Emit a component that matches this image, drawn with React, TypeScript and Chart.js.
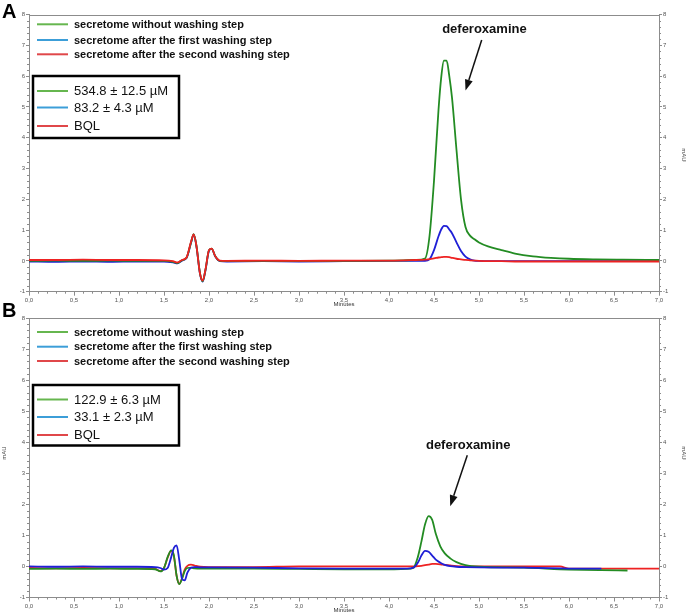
import React, { useEffect, useRef } from "react";
import { Chart, registerables } from "chart.js";

Chart.register(...registerables);

// ---------- data ----------
const seriesNames = [
  "secretome without washing step",
  "secretome after the first washing step",
  "secretome after the second washing step",
];
const concA = ["534.8 ± 12.5 µM", "83.2 ± 4.3 µM", "BQL"];
const concB = ["122.9 ± 6.3 µM", "33.1 ± 2.3 µM", "BQL"];
const peakLabel = "deferoxamine";
const axisTitleX = "Minutes";
const axisTitleY = "mAU";

// Panel A (minutes)
const timeA = [0, 0.3, 0.6, 0.9, 1.2, 1.5, 1.6, 1.65, 1.7, 1.75, 1.8, 1.83, 1.86, 1.9, 1.93, 1.96, 2.0, 2.03, 2.07, 2.12, 2.2, 2.6, 3.0, 3.5, 4.0, 4.3, 4.4, 4.45, 4.5, 4.55, 4.58, 4.61, 4.64, 4.67, 4.7, 4.75, 4.8, 4.85, 4.9, 4.95, 5.0, 5.1, 5.25, 5.4, 5.6, 5.8, 6.0, 6.3, 6.6, 7.0];
const greenA = [0.0, 0.01, 0.0, 0.01, 0.0, 0.0, -0.03, -0.07, 0.02, 0.1, 0.6, 0.87, 0.5, -0.4, -0.66, -0.3, 0.35, 0.4, 0.15, 0.0, -0.01, 0.0, -0.01, 0.0, 0.01, 0.03, 0.08, 0.8, 2.6, 4.9, 5.95, 6.5, 6.5, 6.0, 5.3, 3.6, 2.0, 1.1, 0.82, 0.7, 0.6, 0.47, 0.35, 0.24, 0.15, 0.1, 0.07, 0.05, 0.04, 0.03];
const blueA = [-0.02, -0.03, -0.02, -0.03, -0.02, -0.02, -0.05, -0.08, 0.01, 0.09, 0.58, 0.85, 0.48, -0.42, -0.67, -0.32, 0.33, 0.39, 0.14, -0.01, -0.02, -0.01, -0.02, -0.01, 0.0, 0.0, 0.0, 0.05, 0.35, 0.8, 1.02, 1.14, 1.13, 1.02, 0.9, 0.6, 0.32, 0.14, 0.05, 0.01, 0.0, -0.01, -0.01, -0.01, -0.01, -0.01, -0.01, -0.01, -0.01, -0.01];
const redA = [0.03, 0.03, 0.04, 0.03, 0.03, 0.02, -0.01, -0.05, 0.03, 0.11, 0.62, 0.86, 0.49, -0.41, -0.64, -0.29, 0.35, 0.4, 0.15, 0.01, 0.0, 0.01, 0.0, 0.01, 0.01, 0.03, 0.04, 0.06, 0.08, 0.11, 0.12, 0.13, 0.13, 0.12, 0.1, 0.07, 0.05, 0.03, 0.02, 0.01, 0.0, -0.01, -0.01, -0.02, -0.02, -0.02, -0.02, -0.02, -0.02, -0.02];

// Panel B (minutes)
const timeB = [0, 0.3, 0.6, 0.9, 1.2, 1.4, 1.46, 1.5, 1.54, 1.58, 1.61, 1.64, 1.67, 1.7, 1.73, 1.76, 1.8, 1.84, 1.9, 2.0, 2.5, 3.0, 3.5, 4.0, 4.2, 4.27, 4.32, 4.36, 4.4, 4.44, 4.48, 4.52, 4.57, 4.62, 4.68, 4.75, 4.85, 5.0, 5.5, 5.9, 6.0, 6.36, 6.65, 7.0];
const greenB = [-0.08, -0.07, -0.08, -0.07, -0.08, -0.09, -0.16, -0.05, 0.3, 0.52, 0.35, -0.3, -0.57, -0.4, -0.15, -0.05, -0.04, -0.06, -0.07, -0.07, -0.07, -0.08, -0.09, -0.09, -0.08, -0.05, 0.3, 0.8, 1.35, 1.62, 1.5, 1.05, 0.65, 0.42, 0.26, 0.14, 0.04, -0.01, -0.04, -0.09, -0.1, -0.12, -0.13, null];
const blueB = [0.0, -0.01, 0.0, -0.01, -0.01, -0.02, -0.05, -0.1, -0.05, 0.3, 0.6, 0.68, 0.2, -0.4, -0.45, -0.2, -0.04, -0.02, -0.03, -0.03, -0.04, -0.06, -0.07, -0.07, -0.07, -0.04, 0.12, 0.35, 0.5, 0.47, 0.35, 0.22, 0.12, 0.05, 0.01, -0.01, -0.02, -0.03, -0.04, -0.06, -0.07, -0.07, null, null];
const redB = [-0.05, -0.06, -0.05, -0.06, -0.06, -0.08, -0.15, -0.05, 0.28, 0.5, 0.33, -0.3, -0.56, -0.38, -0.1, 0.02, 0.06, 0.03, -0.01, -0.02, -0.02, 0.0, 0.0, 0.0, 0.0, 0.0, 0.01, 0.02, 0.04, 0.06, 0.08, 0.08, 0.07, 0.05, 0.03, 0.01, 0.0, 0.0, 0.0, 0.0, -0.07, -0.07, -0.07, -0.07];

// ---------- styles ----------
const FONT = "'Liberation Sans', Arial, sans-serif";
const LINE_COLORS = ["#238c23", "#1f1fd6", "#ee2222"];
const LEGEND_COLORS = ["#66b64f", "#3c9ed8", "#e0474a"];
const AXIS_COLOR = "#8c8c8c";
const TICK_TEXT = "#555555";

type PanelCfg = {
  letter: string;
  time: number[];
  green: (number | null)[];
  blue: (number | null)[];
  red: (number | null)[];
  conc: string[];
  top: number;
  height: number;
  chartTop: number;
  chartBottom: number;
  legendRows: number[];
  boxTop: number;
  boxBottom: number;
  boxRows: number[];
  letterBaseline: number;
  textAt: [number, number];
  arrowFrom: [number, number];
  arrowTo: [number, number];
  mauLeft: number | null;
  mauRight: number | null;
  order: string[];
};

const toPts = (t: number[], v: (number | null)[]) => t.map((x, i) => ({ x, y: v[i] }));

function overlayPlugin(cfg: PanelCfg) {
  return {
    id: "overlay" + cfg.letter,
    afterDraw(chart: any) {
      const ctx = chart.ctx as CanvasRenderingContext2D;
      const { left, right, top, bottom } = chart.chartArea;
      const xs = chart.scales.x;
      const ys = chart.scales.y;
      ctx.save();
      // top border
      ctx.strokeStyle = AXIS_COLOR;
      ctx.lineWidth = 1;
      ctx.beginPath();
      ctx.moveTo(left, Math.round(top) + 0.5);
      ctx.lineTo(right, Math.round(top) + 0.5);
      ctx.stroke();
      // minor ticks
      ctx.beginPath();
      for (let i = 0; i <= 70; i++) {
        if (i % 5 === 0) continue;
        const px = Math.round(xs.getPixelForValue(i / 10)) + 0.5;
        ctx.moveTo(px, bottom);
        ctx.lineTo(px, bottom + 2);
      }
      for (let j = -10; j <= 80; j += 2) {
        if (j % 10 === 0) continue;
        const py = Math.round(ys.getPixelForValue(j / 10)) + 0.5;
        ctx.moveTo(left - 2, py);
        ctx.lineTo(left, py);
        ctx.moveTo(right, py);
        ctx.lineTo(right + 2, py);
      }
      ctx.stroke();

      // panel letter
      ctx.fillStyle = "#000";
      ctx.font = `bold 20px ${FONT}`;
      ctx.textAlign = "left";
      ctx.textBaseline = "alphabetic";
      ctx.fillText(cfg.letter, 2, cfg.letterBaseline);

      // series legend
      ctx.textBaseline = "middle";
      ctx.font = `bold 11px ${FONT}`;
      seriesNames.forEach((name, i) => {
        const y = cfg.legendRows[i];
        ctx.strokeStyle = LEGEND_COLORS[i];
        ctx.lineWidth = 2;
        ctx.beginPath();
        ctx.moveTo(37, y);
        ctx.lineTo(68, y);
        ctx.stroke();
        ctx.fillStyle = "#111";
        ctx.fillText(name, 74, y + 0.5);
      });

      // concentration box
      ctx.fillStyle = "#fff";
      ctx.fillRect(33, cfg.boxTop, 146, cfg.boxBottom - cfg.boxTop);
      ctx.strokeStyle = "#000";
      ctx.lineWidth = 2.5;
      ctx.strokeRect(33, cfg.boxTop, 146, cfg.boxBottom - cfg.boxTop);
      ctx.font = `13px ${FONT}`;
      cfg.conc.forEach((txt, i) => {
        const y = cfg.boxRows[i];
        ctx.strokeStyle = LEGEND_COLORS[i];
        ctx.lineWidth = 2;
        ctx.beginPath();
        ctx.moveTo(37, y);
        ctx.lineTo(68, y);
        ctx.stroke();
        ctx.fillStyle = "#111";
        ctx.fillText(txt, 74, y + 0.5);
      });

      // peak annotation
      const tx = xs.getPixelForValue(cfg.textAt[0]);
      const ty = ys.getPixelForValue(cfg.textAt[1]);
      ctx.font = `bold 13px ${FONT}`;
      ctx.textAlign = "center";
      ctx.fillStyle = "#111";
      ctx.fillText(peakLabel, tx, ty);
      const ax0 = xs.getPixelForValue(cfg.arrowFrom[0]);
      const ay0 = ys.getPixelForValue(cfg.arrowFrom[1]);
      const ax1 = xs.getPixelForValue(cfg.arrowTo[0]);
      const ay1 = ys.getPixelForValue(cfg.arrowTo[1]);
      const ang = Math.atan2(ay1 - ay0, ax1 - ax0);
      const headL = 11;
      const headW = 4;
      const bx = ax1 - headL * Math.cos(ang);
      const by = ay1 - headL * Math.sin(ang);
      ctx.strokeStyle = "#111";
      ctx.lineWidth = 1.5;
      ctx.beginPath();
      ctx.moveTo(ax0, ay0);
      ctx.lineTo(bx, by);
      ctx.stroke();
      ctx.beginPath();
      ctx.moveTo(ax1, ay1);
      ctx.lineTo(bx + headW * Math.sin(ang), by - headW * Math.cos(ang));
      ctx.lineTo(bx - headW * Math.sin(ang), by + headW * Math.cos(ang));
      ctx.closePath();
      ctx.fillStyle = "#111";
      ctx.fill();

      // mAU labels
      ctx.font = `6px ${FONT}`;
      ctx.fillStyle = "#444";
      ctx.textAlign = "center";
      ctx.textBaseline = "middle";
      if (cfg.mauRight !== null) {
        ctx.save();
        ctx.translate(684, cfg.mauRight);
        ctx.rotate(Math.PI / 2);
        ctx.fillText(axisTitleY, 0, 0);
        ctx.restore();
      }
      if (cfg.mauLeft !== null) {
        ctx.save();
        ctx.translate(4, cfg.mauLeft);
        ctx.rotate(-Math.PI / 2);
        ctx.fillText(axisTitleY, 0, 0);
        ctx.restore();
      }
      ctx.restore();
    },
  };
}

function Panel({ cfg }: { cfg: PanelCfg }) {
  const ref = useRef<HTMLCanvasElement | null>(null);
  useEffect(() => {
    if (!ref.current) return;
    const ds: Record<string, any> = {
      green: { label: seriesNames[0], data: toPts(cfg.time, cfg.green), borderColor: LINE_COLORS[0] },
      blue: { label: seriesNames[1], data: toPts(cfg.time, cfg.blue), borderColor: LINE_COLORS[1] },
      red: { label: seriesNames[2], data: toPts(cfg.time, cfg.red), borderColor: LINE_COLORS[2] },
    };
    const datasets = cfg.order.map((k) => ({
      ...ds[k],
      borderWidth: 1.8,
      pointRadius: 0,
      fill: false,
      spanGaps: false,
      cubicInterpolationMode: "monotone",
      yAxisID: "y",
    }));
    const xh = cfg.height - cfg.chartBottom;
    const yScale = (pos: string, w: number) => ({
      type: "linear",
      position: pos,
      min: -1,
      max: 8,
      ticks: { stepSize: 1, font: { size: 6, family: FONT }, color: TICK_TEXT, padding: 1 },
      grid: { drawOnChartArea: false, tickLength: 3, color: AXIS_COLOR, tickColor: AXIS_COLOR },
      border: { color: AXIS_COLOR, width: 1 },
      afterFit: (s: any) => {
        s.width = w;
      },
    });
    const chart = new Chart(ref.current, {
      type: "line",
      data: { datasets },
      options: {
        animation: false,
        responsive: false,
        devicePixelRatio: 1,
        layout: { padding: { top: cfg.chartTop, left: 0, right: 0, bottom: 0 } },
        plugins: { legend: { display: false }, tooltip: { enabled: false } },
        scales: {
          x: {
            type: "linear",
            min: 0,
            max: 7,
            ticks: {
              stepSize: 0.5,
              autoSkip: false,
              maxRotation: 0,
              padding: 1,
              font: { size: 6, family: FONT },
              color: TICK_TEXT,
              callback: (v: any) => Number(v).toFixed(1).replace(".", ","),
            },
            grid: { drawOnChartArea: false, tickLength: 4, color: AXIS_COLOR, tickColor: AXIS_COLOR },
            border: { color: AXIS_COLOR, width: 1 },
            title: { display: true, text: axisTitleX, font: { size: 6, family: FONT }, color: "#333", padding: { top: 0, bottom: 0 } },
            afterFit: (s: any) => {
              s.height = xh;
            },
          },
          y: yScale("left", 29),
          y2: yScale("right", 29),
        },
      } as any,
      plugins: [overlayPlugin(cfg)],
    });
    return () => chart.destroy();
  }, [cfg]);
  return (
    <canvas
      ref={ref}
      width={688}
      height={cfg.height}
      style={{ position: "absolute", left: 0, top: cfg.top, width: 688, height: cfg.height }}
    />
  );
}

const panelA: PanelCfg = {
  letter: "A",
  time: timeA,
  green: greenA,
  blue: blueA,
  red: redA,
  conc: concA,
  top: 0,
  height: 308,
  chartTop: 14.5,
  chartBottom: 291.7,
  legendRows: [24.3, 40, 54.3],
  boxTop: 76,
  boxBottom: 138,
  boxRows: [91, 107.5, 126],
  letterBaseline: 18,
  textAt: [5.06, 7.5],
  arrowFrom: [5.03, 7.17],
  arrowTo: [4.85, 5.53],
  mauLeft: null,
  mauRight: 155,
  order: ["red", "green", "blue"],
};

const panelB: PanelCfg = {
  letter: "B",
  time: timeB,
  green: greenB,
  blue: blueB,
  red: redB,
  conc: concB,
  top: 300,
  height: 314,
  chartTop: 18,
  chartBottom: 297.5,
  legendRows: [32, 46.7, 61],
  boxTop: 85,
  boxBottom: 145.5,
  boxRows: [99.5, 117, 135],
  letterBaseline: 17,
  textAt: [4.88, 3.9],
  arrowFrom: [4.87, 3.58],
  arrowTo: [4.68, 1.94],
  mauLeft: 153,
  mauRight: 153,
  order: ["blue", "green", "red"],
};

export default function App() {
  return (
    <div style={{ position: "absolute", left: 0, top: 0, width: 688, height: 614, background: "#fff", overflow: "hidden" }}>
      <Panel cfg={panelA} />
      <Panel cfg={panelB} />
    </div>
  );
}
